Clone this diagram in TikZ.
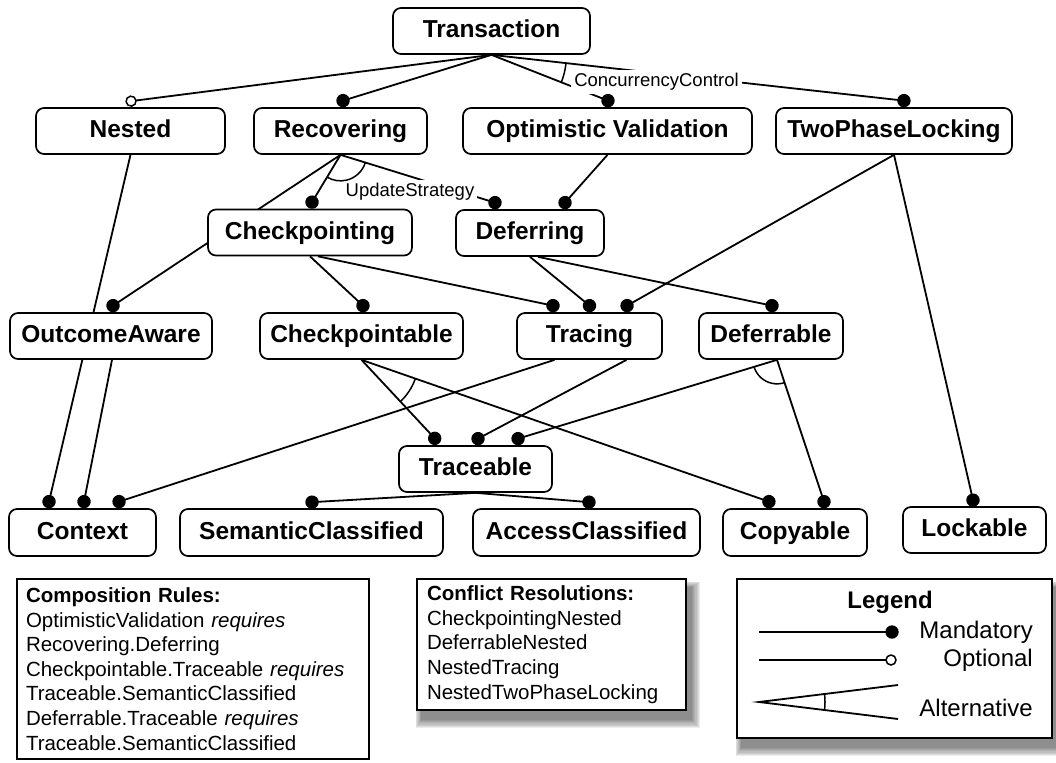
\documentclass[tikz,border=0pt]{standalone}
\usepackage{fontspec}
\setmainfont{Liberation Sans}
\usetikzlibrary{calc,decorations.markings}
\pgfdeclarelayer{bg}
\pgfsetlayers{bg,main}
\begin{document}
\begin{tikzpicture}[x=1pt,y=-1pt,
  feat/.style={draw, line width=1.7pt, rounded corners=8pt, fill=white, inner sep=0pt,
    text height=18pt, text depth=5pt,
    font=\bfseries\fontsize{24.5}{28}\selectfont},
  edge/.style={line width=1.8pt},
  mand/.style={edge, postaction={decorate, decoration={markings,
    mark=at position 0.9999 with {\fill (0pt,0pt) circle (6.7pt);}}}},
  opt/.style={edge, postaction={decorate, decoration={markings,
    mark=at position 0.9999 with {\filldraw[fill=white, line width=1.5pt] (0pt,0pt) circle (5pt);}}}},
  lbl/.style={fill=white, inner sep=3pt, font=\fontsize{18.5}{22}\selectfont},
  alt/.style={line width=1.5pt},
  infobox/.style={draw, line width=1.7pt, fill=white, inner ysep=0pt, align=left,
    font=\fontsize{20.5}{24.6}\selectfont},
  legtext/.style={font=\fontsize{24}{28}\selectfont, inner sep=0pt},
]
\useasboundingbox (0,0) rectangle (1056,762);

% feature nodes
\node[feat, minimum width=197pt, minimum height=46pt] (trans) at (491.5,31) {Transaction};
\node[feat, minimum width=189pt, minimum height=46pt] (nested) at (130.5,131) {Nested};
\node[feat, minimum width=173pt, minimum height=46pt] (recov) at (340.5,131) {Recovering};
\node[feat, minimum width=289pt, minimum height=46pt] (optval) at (607.5,131) {Optimistic Validation};
\node[feat, minimum width=236pt, minimum height=46pt] (tpl) at (894,131) {TwoPhaseLocking};
\node[feat, minimum width=204pt, minimum height=46pt] (checkp) at (310,232.5) {Checkpointing};
\node[feat, minimum width=148pt, minimum height=46pt] (defer) at (530,233) {Deferring};
\node[feat, minimum width=202pt, minimum height=46pt] (outcome) at (111,336) {OutcomeAware};
\node[feat, minimum width=203pt, minimum height=46pt] (cpable) at (361.5,336) {Checkpointable};
\node[feat, minimum width=145pt, minimum height=46pt] (tracing) at (589.5,336) {Tracing};
\node[feat, minimum width=144pt, minimum height=46pt] (deferable) at (771,336) {Deferrable};
\node[feat, minimum width=153pt, minimum height=46pt] (traceable) at (475.5,469) {Traceable};
\node[feat, minimum width=147pt, minimum height=47pt] (context) at (82.5,532.5) {Context};
\node[feat, minimum width=263pt, minimum height=47pt] (semantic) at (311.5,532.5) {SemanticClassified};
\node[feat, minimum width=227pt, minimum height=47pt] (access) at (586.5,532.5) {AccessClassified};
\node[feat, minimum width=144pt, minimum height=47pt] (copyable) at (795,532.5) {Copyable};
\node[feat, minimum width=143pt, minimum height=46pt] (lockable) at (974.5,530) {Lockable};

% info boxes
\node[infobox, inner xsep=9pt, text width=334pt, minimum height=180pt] (comp) at (193,669)
 {\textbf{Composition Rules:}\\
  OptimisticValidation \textit{requires}\\
  Recovering.Deferring\\
  Checkpointable.Traceable \textit{requires}\\
  Traceable.SemanticClassified\\
  Deferrable.Traceable \textit{requires}\\
  Traceable.SemanticClassified};
\node[infobox, inner xsep=10pt, text width=249pt, minimum height=131pt] (conf) at (551.5,644.5)
 {\textbf{Conflict Resolutions:}\\
  CheckpointingNested\\
  DeferrableNested\\
  NestedTracing\\
  NestedTwoPhaseLocking};
\node[draw, line width=1.7pt, fill=white, inner sep=0pt, minimum width=315pt, minimum height=159pt] (legend) at (894.5,658.5) {};

% shadows
\begin{pgfonlayer}{bg}
\foreach \i in {0,...,7} {
  \fill[black, opacity=0.07] ($(conf.north west)+(5-\i*0.8, 9-\i*0.8)$) rectangle ($(conf.south east)+(5+\i*1.2, 9+\i*1.2)$);
  \fill[black, opacity=0.07] ($(legend.north west)+(5-\i*0.8, 9-\i*0.8)$) rectangle ($(legend.south east)+(5+\i*1.2, 9+\i*1.2)$);
}
\end{pgfonlayer}

% connectors
\begin{pgfonlayer}{bg}
\draw[opt] (trans.south) -- ($(nested.north)+(0.5,-6)$);
\draw[mand] (trans.south) -- ($(recov.north)+(2.5,-6.5)$);
\draw[mand] (trans.south) -- ($(optval.north)+(0.5,-6.5)$);
\draw[mand] (trans.south) -- ($(tpl.north)+(10,-6.5)$);
\draw[mand] (recov.south) -- ($(checkp.north)+(2,-6.5)$);
\draw[mand] (recov.south) -- ($(defer.north)+(-35,-6.5)$);
\draw[mand] (recov.south) -- ($(outcome.north)+(2,-6.5)$);
\draw[mand] (optval.south) -- ($(defer.north)+(35,-6.5)$);
\draw[mand] (tpl.south) -- ($(tracing.north)+(37.5,-6.5)$);
\draw[mand] (tpl.south) -- ($(lockable.north)+(-1.5,-6)$);
\draw[mand] (checkp.south) -- ($(cpable.north)+(1.5,-6.5)$);
\draw[mand] ($(checkp.south)+(8,0)$) -- ($(tracing.north)+(-36.5,-6.5)$);
\draw[mand] (defer.south) -- ($(tracing.north)+(0,-6.5)$);
\draw[mand] ($(defer.south)+(8,0)$) -- ($(deferable.north)+(1,-6.5)$);
\draw[mand] (nested.south) -- ($(context.north)+(-33.5,-6.5)$);
\draw[mand] ($(outcome.south)+(1,0)$) -- ($(context.north)+(1.5,-6.5)$);
\draw[mand] ($(tracing.south)+(-35,0)$) -- ($(context.north)+(36.5,-6.5)$);
\draw[mand] (cpable.south) -- ($(traceable.north)+(-40.5,-6.5)$);
\draw[mand] (cpable.south) -- ($(copyable.north)+(-26,-6.5)$);
\draw[mand] ($(tracing.south)+(37,0)$) -- ($(traceable.north)+(2.5,-6.5)$);
\draw[mand] ($(deferable.south)+(6,0)$) -- ($(traceable.north)+(42.5,-6.5)$);
\draw[mand] ($(deferable.south)+(6,0)$) -- ($(copyable.north)+(29,-6.5)$);
\draw[mand] (traceable.south) -- ($(semantic.north)+(0.5,-6)$);
\draw[mand] (traceable.south) -- ($(access.north)+(2.5,-6)$);
\end{pgfonlayer}

% group labels
\node[lbl] (cc) at (656.5,82) {ConcurrencyControl};
\node[lbl] (us) at (410,192) {UpdateStrategy};

% alternative arcs
\draw[alt] ([shift={(6.5:75)}]trans.south) arc[start angle=6.5, end angle=22, radius=75];
\draw[alt] ([shift={(17.3:26)}]recov.south) arc[start angle=17.3, end angle=121.2, radius=26];
\draw[alt] ([shift={(19.5:57)}]cpable.south) arc[start angle=19.5, end angle=47.6, radius=57];
\draw[alt] ([shift={(71.9:24)}]$(deferable.south)+(6,0)$) arc[start angle=71.9, end angle=162.7, radius=24];

% legend contents
\node[font=\bfseries\fontsize{24}{28}\selectfont, inner sep=0pt] (legtitle) at (890,602) {Legend};
\coordinate (m1) at (759,632); \coordinate (m2) at (892,632);
\coordinate (o1) at (759,660); \coordinate (o2) at (891,660);
\coordinate (a0) at (759,702); \coordinate (a1) at (898,685); \coordinate (a2) at (898,719);
\draw[mand] (m1) -- (m2);
\draw[opt] (o1) -- (o2);
\draw[edge] (a1) -- (a0) -- (a2);
\draw[alt] ([shift={(-7:66)}]a0) arc[start angle=-7, end angle=7, radius=66];
\node[legtext, anchor=east] (lm) at (1033,632) {Mandatory};
\node[legtext, anchor=east] (lo) at (1033,660) {Optional};
\node[legtext, anchor=east] (la) at (1033,708) {Alternative};
\end{tikzpicture}
\end{document}
